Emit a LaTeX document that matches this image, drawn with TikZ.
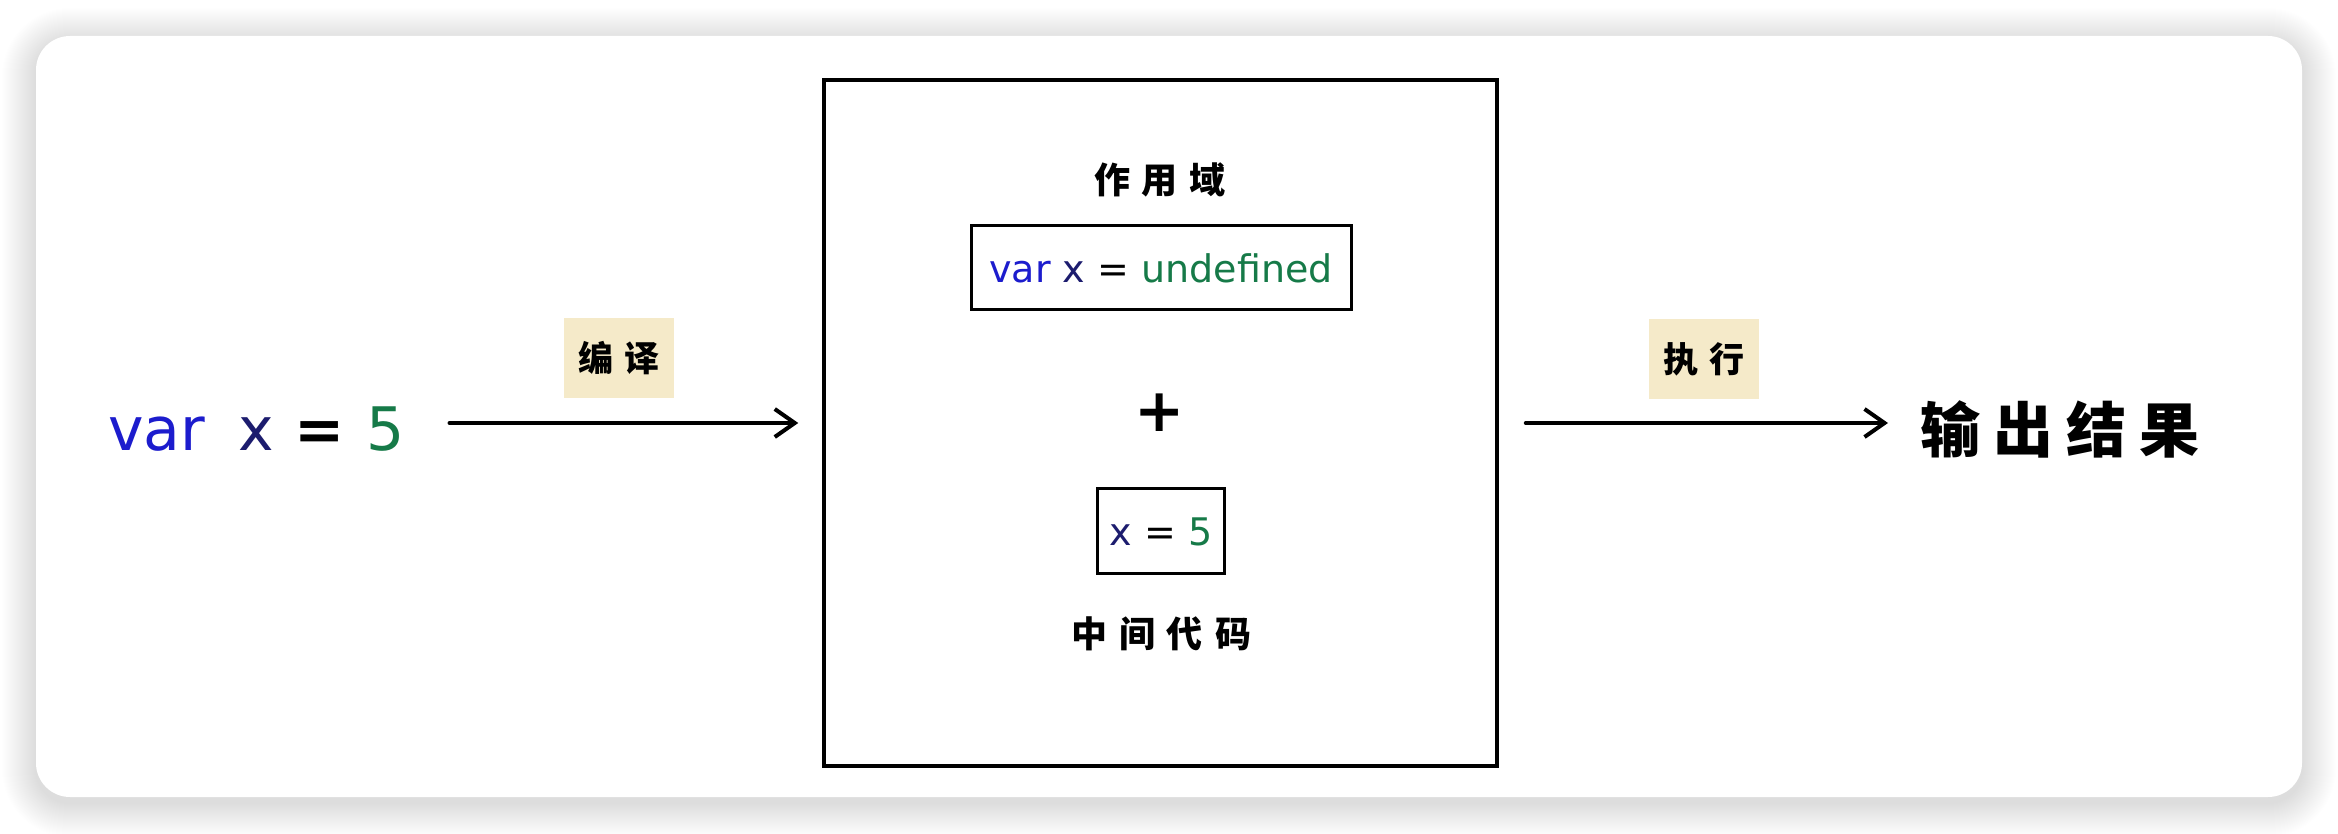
\documentclass[tikz,border=0pt]{standalone}
\usepackage{fontspec}
\setmainfont{DejaVu Sans}
\newfontfamily\cjk{Noto Sans CJK SC}
\usetikzlibrary{arrows.meta}
\definecolor{kwblue}{RGB}{28,28,205}
\definecolor{varnavy}{RGB}{28,28,110}
\definecolor{valgreen}{RGB}{22,122,72}
\definecolor{tagbg}{RGB}{245,234,201}
\tikzset{
  codebox/.style={draw=black, line width=3pt, inner sep=0pt,
    font=\fontsize{38}{38}\selectfont, text height=29pt, text depth=0pt},
  tagbox/.style={fill=tagbg, minimum width=110pt, minimum height=80pt, inner sep=0pt,
    font=\cjk\bfseries\fontsize{35}{35}\selectfont, text height=29pt, text depth=3pt},
  cjklabel/.style={inner sep=0pt, font=\cjk\bfseries\fontsize{36}{36}\selectfont,
    text height=30pt, text depth=3pt},
  flow/.style={line width=4pt, line cap=round,
    -{Straight Barb[length=20pt,width=28pt]}},
}
\begin{document}
\begin{tikzpicture}[x=1pt,y=-1pt]
\useasboundingbox (0,0) rectangle (2338,834);
\fill[white] (0,0) rectangle (2338,834);
% soft shadow of the card
\foreach \i in {1,...,34}{
  \pgfmathsetmacro\rr{34+\i}
  \fill[black, opacity=0.0055, rounded corners=\rr pt]
    (36-\i,36-\i+6) rectangle (2302+\i,797+\i+6);
}
\fill[white, rounded corners=34pt] (36,36) rectangle (2302,797);

% source code
\node[anchor=base west, inner sep=0pt, font=\fontsize{60}{60}\selectfont] (src) at (108,450)
  {\textcolor{kwblue}{var}\hspace{14pt} \textcolor{varnavy}{x}\hspace{2pt} {\bfseries =}\hspace{2pt} \textcolor{valgreen}{5}};

% central box
\node[draw=black, line width=3.5pt, minimum width=673pt, minimum height=686pt, inner sep=0pt]
  (scope) at (1160.5,423) {};
\node[cjklabel] (scopetitle) at (1160,180) {作\hspace{12pt}用\hspace{12pt}域};
\node[codebox, minimum width=380pt, minimum height=84pt] (decl) at (1161,268)
  {\textcolor{kwblue}{var} \textcolor{varnavy}{x} = \textcolor{valgreen}{undefined}};
\node[inner sep=0pt, font=\bfseries\fontsize{60}{60}\selectfont] (plus) at (1160,413) {+};
\node[codebox, minimum width=127pt, minimum height=85pt] (assign) at (1161,531)
  {\textcolor{varnavy}{x} = \textcolor{valgreen}{5}};
\node[cjklabel] (midcode) at (1161,634) {中\hspace{12pt}间\hspace{12pt}代\hspace{12pt}码};

% output
\node[anchor=base west, inner sep=0pt, font=\cjk\bfseries\fontsize{60}{60}\selectfont]
  (out) at (1920,452) {输\hspace{13pt}出\hspace{13pt}结\hspace{13pt}果};

% arrows
\draw[flow, shorten <=45pt, shorten >=24pt] (src.east |- scope.west) -- (scope.west);
\draw[flow, shorten <=27pt, shorten >=32pt] (scope.east) -- (scope.east -| out.west);

% tags
\node[tagbox] (tcompile) at (619,358) {编\hspace{11pt}译};
\node[tagbox] (texec) at (1704,359) {执\hspace{11pt}行};
\end{tikzpicture}
\end{document}
